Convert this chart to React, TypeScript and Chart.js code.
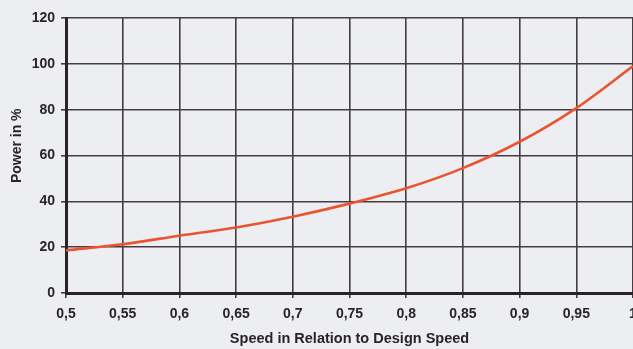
import React, { useEffect, useRef } from "react";
import { Chart, registerables } from "chart.js";

Chart.register(...registerables);

const speeds = [0.5, 0.55, 0.6, 0.65, 0.7, 0.75, 0.8, 0.85, 0.9, 0.95, 1.0];
const power = [18.6, 21.3, 25.0, 28.6, 33.3, 39.0, 45.7, 54.5, 66.0, 80.7, 99.0];
const xTicks = [0.5, 0.55, 0.6, 0.65, 0.7, 0.75, 0.8, 0.85, 0.9, 0.95, 1];
const yTicks = [0, 20, 40, 60, 80, 100, 120];
const xTitle = "Speed in Relation to Design Speed";
const yTitle = "Power in %";

const FONT = "'Liberation Sans', Arial, sans-serif";
const TEXT = "#2b2326";
const GRID = "#463c41";
const AXIS = "#2a2224";
const BG = "#eceef2";

export default function App() {
  const ref = useRef<HTMLCanvasElement | null>(null);
  useEffect(() => {
    const canvas = ref.current;
    if (!canvas) return;
    const bgPlugin = {
      id: "bg",
      beforeDraw(chart: any) {
        const c = chart.ctx;
        c.save();
        c.fillStyle = BG;
        c.fillRect(0, 0, chart.width, chart.height);
        c.restore();
      },
    };
    const chart = new Chart(canvas, {
      type: "line",
      data: {
        datasets: [
          {
            data: speeds.map((s, i) => ({ x: s, y: power[i] })),
            borderColor: "#ea5531",
            borderWidth: 2.6,
            pointRadius: 0,
            cubicInterpolationMode: "monotone",
            fill: false,
          },
        ],
      },
      options: {
        animation: false,
        responsive: false,
        devicePixelRatio: 1,
        layout: { padding: { top: 18, right: 0, bottom: 0, left: 0 } },
        plugins: { legend: { display: false }, tooltip: { enabled: false } },
        scales: {
          x: {
            type: "linear",
            min: 0.5,
            max: 1,
            afterBuildTicks(scale: any) {
              scale.ticks = xTicks.map((v) => ({ value: v }));
            },
            afterFit(scale: any) {
              scale.height = 56;
              scale.paddingLeft = 0;
              scale.paddingRight = 0;
            },
            ticks: {
              autoSkip: false,
              maxRotation: 0,
              padding: 8,
              color: TEXT,
              font: { family: FONT, size: 14, weight: "bold" },
              callback: (v: any) => String(Number(Number(v).toFixed(2))).replace(".", ","),
            },
            grid: { color: GRID, lineWidth: 1.6, tickLength: 5, drawTicks: true },
            border: { color: AXIS, width: 3 },
            title: {
              display: true,
              text: xTitle,
              color: TEXT,
              font: { family: FONT, size: 14.5, weight: "bold" },
              padding: { top: 0, bottom: 1 },
            },
          },
          y: {
            type: "linear",
            min: 0,
            max: 120,
            afterBuildTicks(scale: any) {
              scale.ticks = yTicks.map((v) => ({ value: v }));
            },
            afterFit(scale: any) {
              scale.width = 66;
              scale.paddingTop = 0;
              scale.paddingBottom = 0;
            },
            ticks: {
              padding: 6,
              color: TEXT,
              font: { family: FONT, size: 14, weight: "bold" },
            },
            grid: { color: GRID, lineWidth: 1.6, tickLength: 5, drawTicks: true },
            border: { color: AXIS, width: 3 },
            title: {
              display: true,
              text: "     " + yTitle,
              color: TEXT,
              font: { family: FONT, size: 14, weight: "bold" },
              padding: { top: 9, bottom: 0 },
            },
          },
        },
      },
      plugins: [bgPlugin],
    } as any);
    return () => chart.destroy();
  }, []);
  return (
    <div style={{ position: "fixed", left: 0, top: 0, width: 633, height: 349, background: BG }}>
      <canvas ref={ref} width={633} height={349} style={{ display: "block", width: 633, height: 349 }} />
    </div>
  );
}
